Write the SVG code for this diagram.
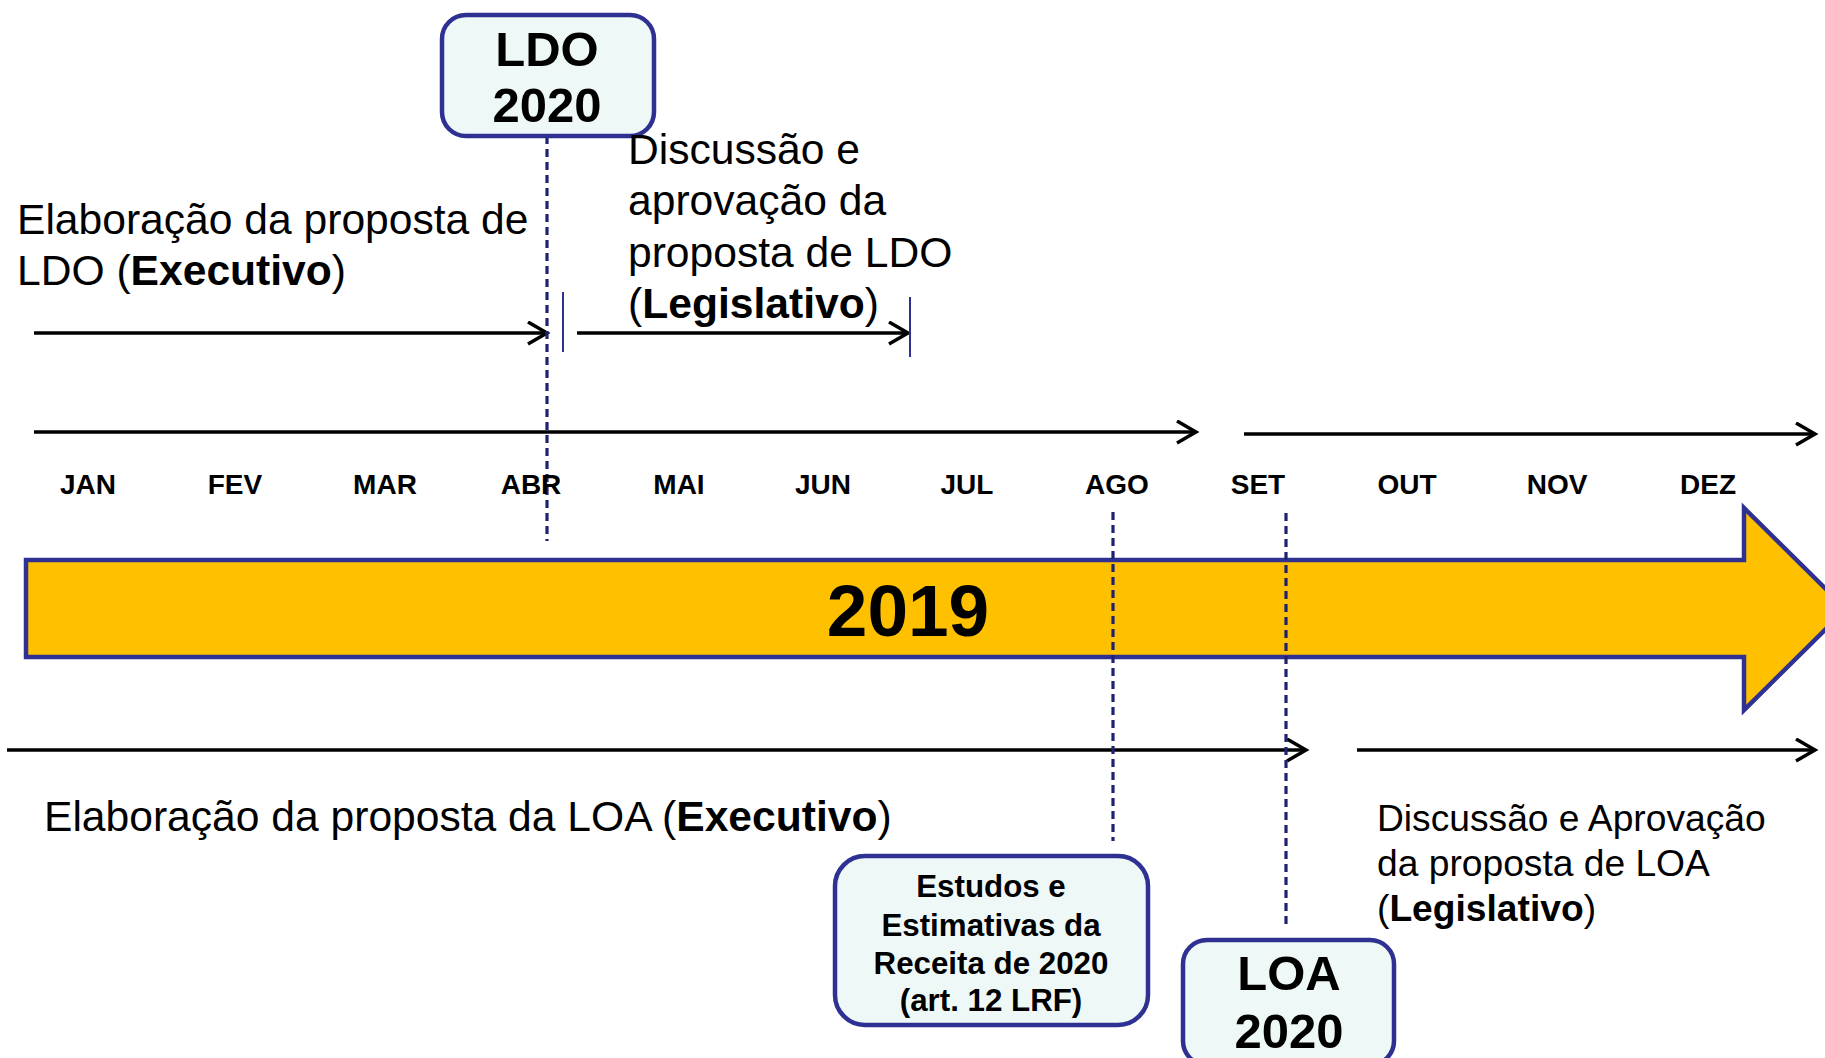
<svg xmlns="http://www.w3.org/2000/svg" width="1825" height="1058" viewBox="0 0 1825 1058">
<defs>
<style>
text{font-family:"Liberation Sans",Arial,Helvetica,sans-serif;fill:#000}
.b{font-weight:bold}
.lbl{font-size:42.6px}
.lbl2{font-size:37.2px}
.mon{font-size:28px;font-weight:bold;text-anchor:middle}
.box{fill:#eef8f7;stroke:#2e3192;stroke-width:4.5}
.ttl{font-size:49px;font-weight:bold;text-anchor:middle}
.est{font-size:31.3px;font-weight:bold;text-anchor:middle}
.arr{stroke:#000;stroke-width:3.5;fill:none;marker-end:url(#chev)}
.dash{stroke:#1f2270;stroke-width:3.2;stroke-dasharray:8 5;fill:none}
.tick{stroke:#2e3192;stroke-width:2;fill:none}
</style>
<marker id="chev" markerUnits="userSpaceOnUse" markerWidth="24" markerHeight="26" refX="20" refY="12" orient="auto" viewBox="0 0 24 26">
<path d="M1,1 L20,12 L1,23" fill="none" stroke="#000" stroke-width="3.5"/>
</marker>
</defs>
<rect width="1825" height="1058" fill="#fff"/>

<g id="year-arrow">
<polygon points="26,560 1744,560 1744,508 1846,609 1744,710 1744,657 26,657" fill="#ffc000" stroke="#2e3192" stroke-width="4.5"/>
<text x="908" y="636" class="b" font-size="73" text-anchor="middle">2019</text>
</g>

<g id="connectors">
<line class="arr" x1="34" y1="333" x2="547" y2="333"/>
<line class="arr" x1="577" y1="333" x2="908" y2="333"/>
<line class="tick" x1="563" y1="292" x2="563" y2="352"/>
<line class="tick" x1="910" y1="297" x2="910" y2="357"/>
<line class="arr" x1="34" y1="432" x2="1196" y2="432"/>
<line class="arr" x1="1244" y1="434" x2="1815" y2="434"/>
<line class="arr" x1="7" y1="750" x2="1306" y2="750"/>
<line class="arr" x1="1357" y1="750" x2="1815" y2="750"/>
<line class="dash" x1="547" y1="136" x2="547" y2="541"/>
<line class="dash" x1="1113" y1="512" x2="1113" y2="841"/>
<line class="dash" x1="1286" y1="513" x2="1286" y2="925"/>
</g>

<g id="months">
<text class="mon" x="88" y="494">JAN</text>
<text class="mon" x="235" y="494">FEV</text>
<text class="mon" x="385" y="494">MAR</text>
<text class="mon" x="531" y="494">ABR</text>
<text class="mon" x="679" y="494">MAI</text>
<text class="mon" x="823" y="494">JUN</text>
<text class="mon" x="967" y="494">JUL</text>
<text class="mon" x="1117" y="494">AGO</text>
<text class="mon" x="1258" y="494">SET</text>
<text class="mon" x="1407" y="494">OUT</text>
<text class="mon" x="1557" y="494">NOV</text>
<text class="mon" x="1708" y="494">DEZ</text>
</g>

<g id="ldo-box">
<rect class="box" x="442" y="15" width="212" height="121" rx="24"/>
<text class="ttl" x="547" y="66">LDO</text>
<text class="ttl" x="547" y="122">2020</text>
</g>

<g id="ldo-exec-label">
<text class="lbl" x="17" y="234">Elaboração da proposta de</text>
<text class="lbl" x="17" y="285">LDO (<tspan class="b">Executivo</tspan>)</text>
</g>

<g id="ldo-leg-label">
<text class="lbl" x="628" y="164">Discussão e</text>
<text class="lbl" x="628" y="215">aprovação da</text>
<text class="lbl" x="628" y="267">proposta de LDO</text>
<text class="lbl" x="628" y="318">(<tspan class="b">Legislativo</tspan>)</text>
</g>

<g id="loa-exec-label">
<text class="lbl" x="44" y="831">Elaboração da proposta da LOA (<tspan class="b">Executivo</tspan>)</text>
</g>

<g id="loa-leg-label">
<text class="lbl2" x="1377" y="831">Discussão e Aprovação</text>
<text class="lbl2" x="1377" y="876">da proposta de LOA</text>
<text class="lbl2" x="1377" y="921">(<tspan class="b">Legislativo</tspan>)</text>
</g>

<g id="estudos-box">
<rect class="box" x="835" y="856" width="313" height="169" rx="30"/>
<text class="est" x="991" y="897">Estudos e</text>
<text class="est" x="991" y="936">Estimativas da</text>
<text class="est" x="991" y="974">Receita de 2020</text>
<text class="est" x="991" y="1011">(art. 12 LRF)</text>
</g>

<g id="loa-box">
<rect class="box" x="1183" y="940" width="211" height="125" rx="24"/>
<text class="ttl" x="1289" y="990">LOA</text>
<text class="ttl" x="1289" y="1048">2020</text>
</g>
</svg>
